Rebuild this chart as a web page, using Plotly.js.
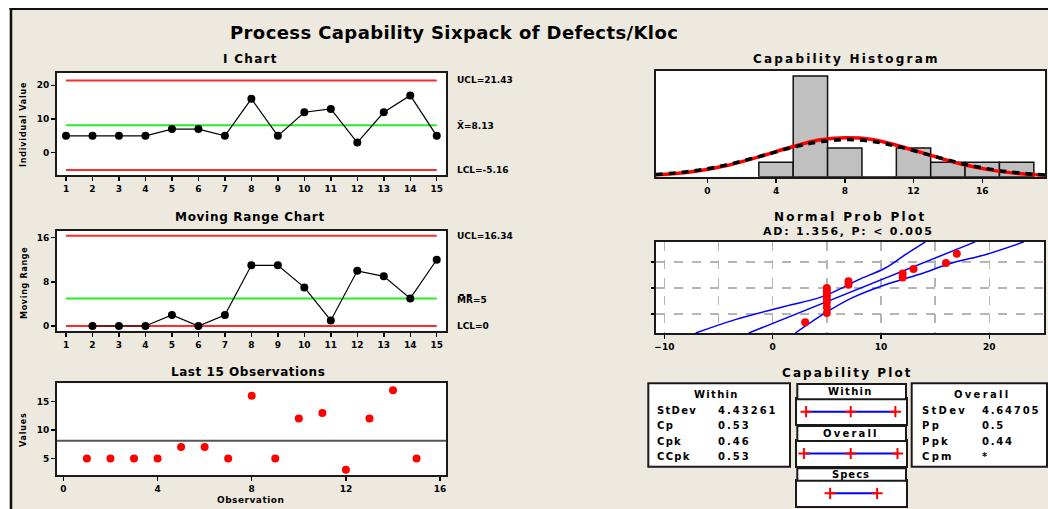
<!DOCTYPE html>
<html>
<head>
<meta charset="utf-8">
<script src="https://cdn.plot.ly/plotly-3.0.1.min.js"></script>
<style>
html,body{margin:0;padding:0;background:#fff;}
#chart{width:1048px;height:509px;}
</style>
</head>
<body>
<div id="chart"></div>
<script>
// ---------------- data ----------------
const observations = [1,2,3,4,5,6,7,8,9,10,11,12,13,14,15];
const defectsPerKloc = [5,5,5,5,7,7,5,16,5,12,13,3,12,17,5];
const mrObservations = [2,3,4,5,6,7,8,9,10,11,12,13,14,15];
const movingRanges = [0,0,0,2,0,2,11,11,7,1,10,9,5,12];
const iLimitValues = [21.43, 8.13, -5.16];
const iLimitLabels = ["UCL=21.43", "X\u0304=8.13", "LCL=-5.16"];
const mrLimitValues = [16.34, 5, 0];
const mrLimitLabels = ["UCL=16.34", "M\u033FR\u033F=5", "LCL=0"];
const iTicks = [0,10,20];
const mrTicks = [0,8,16];
const lastObsXTicks = [0,4,8,12,16];
const lastObsYTicks = [5,10,15];
const processMean = 8.13;

const binCenters = [4,6,8,10,12,14,16,18];
const binCounts = [1,7,2,0,2,1,1,1];
const histTicks = [0,4,8,12,16];
const curveX = [-3,-1,1,3,5,6.5,8,9.5,11,13,15,17,19,19.7];
const withinCurve = [0.12,0.32,0.74,1.38,2.10,2.55,2.70,2.60,2.19,1.48,0.81,0.37,0.13,0.09];
const overallCurve = [0.15,0.37,0.79,1.40,2.05,2.42,2.58,2.47,2.13,1.49,0.86,0.42,0.17,0.12];

const sortedValues = [3,5,5,5,5,5,5,5,7,7,12,12,13,16,17];
const normalScores = [-1.69,-1.23,-0.94,-0.71,-0.51,-0.33,-0.16,0,0.16,0.33,0.51,0.71,0.94,1.23,1.69];
const fitLineX = [-2.2, 18.7];
const fitLineZ = [-2.22, 2.27];
const leftBandX = [-7.11,-3.45,1.16,4.25,6.09,7.94,10.4,12.25,14.1];
const leftBandZ = [-2.22,-1.56,-0.90,-0.49,-0.08,0.41,0.985,1.64,2.27];
const rightBandX = [2.09,4.86,7.32,10.4,13.48,16.56,19.63,23.2];
const rightBandZ = [-2.22,-1.23,-0.49,0.16,0.66,1.23,1.64,2.27];
const probXTicks = [-10,0,10,20];
const probZTicks = [-1.28,0,1.28];

const withinSpan = [-5.16, 8.13, 21.43];
const overallSpan = [-5.81, 8.13, 22.07];
const specLimits = [2, 16];

const withinLabels = ["StDev","Cp","Cpk","CCpk"];
const withinStats = ["4.43261","0.53","0.46","0.53"];
const overallLabels = ["StDev","Pp","Ppk","Cpm"];
const overallStats = ["4.64705","0.5","0.44","*"];

// ---------------- helpers (pixel -> paper) ----------------
const W = 1048, H = 509;
const X = p => p / W;
const Y = p => 1 - p / H;
const FONT = "DejaVu Sans";
const RED = "#ff2b2b", GREEN = "#22ee22";

function axis(dom, range, extra) {
  return Object.assign({
    domain: dom, range: range, showline: true, mirror: true, linecolor: "#1a1a1a", linewidth: 2,
    ticks: "outside", ticklen: 4, tickwidth: 1.5, tickcolor: "#000", showgrid: false, zeroline: false,
    tickfont: {family: FONT, size: 9, color: "#000", weight: "bold"}, fixedrange: true
  }, extra || {});
}

const traces = [];
// I chart
const iX = [observations[0], observations[observations.length-1]];
[RED, GREEN, RED].forEach((c, k) => traces.push({x: iX, y: [iLimitValues[k], iLimitValues[k]], xaxis: "x", yaxis: "y", mode: "lines", line: {color: c, width: 2}}));
traces.push({x: observations, y: defectsPerKloc, xaxis: "x", yaxis: "y", mode: "lines+markers", line: {color: "#000", width: 1.2}, marker: {color: "#000", size: 8}});
// MR chart
[RED, GREEN, RED].forEach((c, k) => traces.push({x: iX, y: [mrLimitValues[k], mrLimitValues[k]], xaxis: "x2", yaxis: "y2", mode: "lines", line: {color: c, width: 2}}));
traces.push({x: mrObservations, y: movingRanges, xaxis: "x2", yaxis: "y2", mode: "lines+markers", line: {color: "#000", width: 1.2}, marker: {color: "#000", size: 8}});
// Last 15 observations
traces.push({x: observations, y: defectsPerKloc, xaxis: "x3", yaxis: "y3", mode: "markers", marker: {color: "#ff0000", size: 8}});
// Histogram
traces.push({type: "bar", x: binCenters, y: binCounts, width: 2, xaxis: "x4", yaxis: "y4", marker: {color: "#c0c0c0", line: {color: "#111", width: 1.5}}});
traces.push({x: curveX, y: withinCurve, xaxis: "x4", yaxis: "y4", mode: "lines", line: {color: "#ff0000", width: 3.5, shape: "spline"}});
traces.push({x: curveX, y: overallCurve, xaxis: "x4", yaxis: "y4", mode: "lines", line: {color: "#000", width: 3.5, dash: "7px,6px", shape: "spline"}});
// Normal probability plot
traces.push({x: leftBandX, y: leftBandZ, xaxis: "x5", yaxis: "y5", mode: "lines", line: {color: "#0000ff", width: 1.5, shape: "spline"}});
traces.push({x: fitLineX, y: fitLineZ, xaxis: "x5", yaxis: "y5", mode: "lines", line: {color: "#0000ff", width: 1.5}});
traces.push({x: rightBandX, y: rightBandZ, xaxis: "x5", yaxis: "y5", mode: "lines", line: {color: "#0000ff", width: 1.5, shape: "spline"}});
traces.push({x: sortedValues, y: normalScores, xaxis: "x5", yaxis: "y5", mode: "markers", marker: {color: "#ff0000", size: 8}});
// Capability plot
const cross = {symbol: "cross-thin", size: 8, color: "#ff0000", line: {color: "#ff0000", width: 2}};
traces.push({x: withinSpan, y: withinSpan.map(() => 0.5), xaxis: "x6", yaxis: "y6", mode: "lines+markers", line: {color: "#0000ff", width: 2}, marker: cross});
traces.push({x: overallSpan, y: overallSpan.map(() => 0.5), xaxis: "x7", yaxis: "y7", mode: "lines+markers", line: {color: "#0000ff", width: 2}, marker: cross});
traces.push({x: specLimits, y: specLimits.map(() => 0.5), xaxis: "x8", yaxis: "y8", mode: "lines+markers", line: {color: "#0000ff", width: 2}, marker: cross});

const leftDom = [X(57), X(446)];
const capDomX = [X(797.3), X(906)];
const capAxis = (dom, anchor) => ({domain: dom, range: [-7.78, 24.6], showline: true, mirror: true, linecolor: "#1a1a1a", linewidth: 2, showticklabels: false, ticks: "", showgrid: false, zeroline: false, anchor: anchor, fixedrange: true});
const capYAxis = (dom, anchor) => ({domain: dom, range: [0, 1], showline: true, mirror: true, linecolor: "#1a1a1a", linewidth: 2, showticklabels: false, ticks: "", showgrid: false, zeroline: false, anchor: anchor, fixedrange: true});

const layout = {
  width: W, height: H, margin: {l: 0, r: 0, t: 0, b: 0},
  paper_bgcolor: "#EDE9DF", plot_bgcolor: "#ffffff", showlegend: false,
  font: {family: FONT, size: 9, color: "#000"},
  xaxis: axis(leftDom, [0.66, 15.35], {tickvals: observations, anchor: "y"}),
  yaxis: axis([Y(175), Y(73)], [-6.62, 23.65], {tickvals: iTicks, anchor: "x"}),
  xaxis2: axis(leftDom, [0.66, 15.35], {tickvals: observations, anchor: "y2"}),
  yaxis2: axis([Y(330.7), Y(230.7)], [-0.85, 17.27], {tickvals: mrTicks, anchor: "x2"}),
  xaxis3: axis(leftDom, [-0.27, 16.25], {tickvals: lastObsXTicks, anchor: "y3"}),
  yaxis3: axis([Y(475), Y(383.3)], [2.1, 18.2], {tickvals: lastObsYTicks, anchor: "x3"}),
  xaxis4: axis([X(655.7), X(1045)], [-3.0, 19.65], {tickvals: histTicks, anchor: "y4"}),
  yaxis4: axis([Y(176.7), Y(71)], [0, 7.35], {showticklabels: false, ticks: "", anchor: "x4"}),
  xaxis5: axis([X(655.5), X(1044)], [-10.82, 25.05], {tickvals: probXTicks, anchor: "y5", showgrid: true, gridcolor: "#b4b4b4", griddash: "dash", gridwidth: 1.5,
    minor: {dtick: 5, tick0: 0, showgrid: true, gridcolor: "#b4b4b4", griddash: "dash", gridwidth: 1.5, ticks: ""}}),
  yaxis5: axis([Y(333), Y(241.5)], [-2.22, 2.29], {tickvals: probZTicks, showticklabels: false, ticklen: 3, anchor: "x5", showgrid: true, gridcolor: "#b4b4b4", griddash: "dash", gridwidth: 1.5}),
  xaxis6: capAxis(capDomX, "y6"), yaxis6: capYAxis([Y(424), Y(399.3)], "x6"),
  xaxis7: capAxis(capDomX, "y7"), yaxis7: capYAxis([Y(466), Y(441)], "x7"),
  xaxis8: capAxis(capDomX, "y8"), yaxis8: capYAxis([Y(506), Y(480.7)], "x8"),
  shapes: [], annotations: []
};

// frame
layout.shapes.push({type: "rect", xref: "paper", yref: "paper", x0: 0, x1: 1, y0: Y(8), y1: 1, fillcolor: "#ffffff", line: {width: 0}, layer: "above"});
layout.shapes.push({type: "rect", xref: "paper", yref: "paper", x0: 0, x1: X(9.5), y0: 0, y1: 1, fillcolor: "#ffffff", line: {width: 0}, layer: "above"});
layout.shapes.push({type: "line", xref: "paper", yref: "paper", x0: X(9.5), x1: 1, y0: Y(9), y1: Y(9), line: {color: "#111", width: 2}, layer: "above"});
layout.shapes.push({type: "line", xref: "paper", yref: "paper", x0: X(11), x1: X(11), y0: 0, y1: Y(8), line: {color: "#111", width: 2.5}, layer: "above"});
// mean line in last-15 chart
layout.shapes.push({type: "line", xref: "x3 domain", yref: "y3", x0: 0, x1: 1, y0: processMean, y1: processMean, line: {color: "#555", width: 2}});
// capability plot boxes
const box = (x0, x1, y0, y1) => layout.shapes.push({type: "rect", xref: "paper", yref: "paper", x0: X(x0), x1: X(x1), y0: Y(y1), y1: Y(y0), fillcolor: "#ffffff", line: {color: "#1a1a1a", width: 2}, layer: "above"});
box(648.3, 790, 383.3, 466.7);
box(911.7, 1047, 383.3, 466.7);
box(797.3, 906, 384, 399.3);
box(797.3, 906, 426, 441);
box(797.3, 906, 468.3, 480.7);

function txt(s, px, py, size, spacing, opts) {
  const t = spacing ? '<span style="letter-spacing:' + spacing + 'px">' + s + '</span>' : s;
  layout.annotations.push(Object.assign({text: t, xref: "paper", yref: "paper", x: X(px), y: Y(py), xanchor: "center", yanchor: "middle",
    showarrow: false, font: {family: FONT, size: size, color: "#000", weight: "bold"}}, opts || {}));
}
txt("Process Capability Sixpack of Defects/Kloc", 453.5, 32.5, 18, 0.4);
txt("I Chart", 250, 59, 12, 1.3);
txt("Moving Range Chart", 250, 216.7, 12, 0.7);
txt("Last 15 Observations", 248, 371.7, 12, 0.55);
txt("Capability Histogram", 846, 59.3, 12, 2.2);
txt("Normal Prob Plot", 850, 216.7, 12, 2.3);
txt("AD: 1.356, P: < 0.005", 848, 231.7, 11, 1.8);
txt("Capability Plot", 847, 372.7, 12, 2.1);
const iLimitY = [80, 125, 170], mrLimitY = [236, 299, 326];
iLimitLabels.forEach((s, k) => txt(s, 455, iLimitY[k], 9, 0, {xanchor: "left"}));
mrLimitLabels.forEach((s, k) => txt(s, 455, mrLimitY[k], 9, 0, {xanchor: "left"}));
txt("Individual Value", 23, 125, 8, 0.8, {textangle: -90});
txt("Moving Range", 24, 283, 8, 0.7, {textangle: -90});
txt("Values", 23, 430, 8, 0.8, {textangle: -90});
txt("Observation", 250, 500, 9, 0.5);
// tables
txt("Within", 716.7, 394, 10, 1.3);
txt("Overall", 981.7, 394, 10, 2.3);
txt("Within", 850.5, 391.7, 10, 1.3);
txt("Overall", 850.5, 433.5, 10, 2.2);
txt("Specs", 850.5, 474.5, 10, 1.0);
const rowY = [410, 425.7, 441, 456.7];
withinLabels.forEach((s, k) => { txt(s, 655, rowY[k], 10, 1.3, {xanchor: "left"}); txt(withinStats[k], 716, rowY[k], 10, 2.0, {xanchor: "left"}); });
overallLabels.forEach((s, k) => { txt(s, 920, rowY[k], 10, 2.3, {xanchor: "left"}); txt(overallStats[k], 980, rowY[k], 10, 1.8, {xanchor: "left"}); });

Plotly.newPlot("chart", traces, layout, {staticPlot: true, displayModeBar: false});
</script>
</body>
</html>
